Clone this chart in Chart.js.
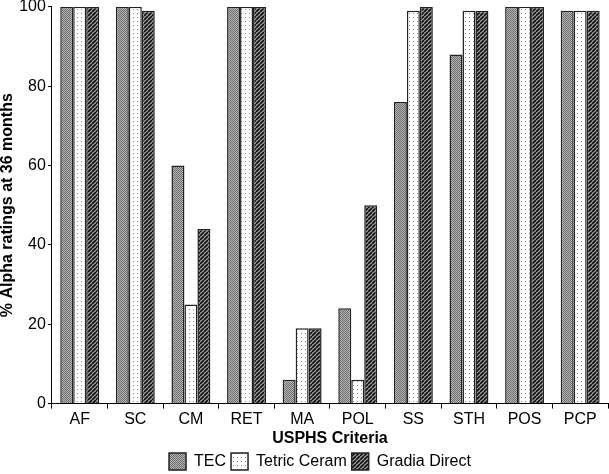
<!DOCTYPE html>
<html><head><meta charset="utf-8">
<script src="https://cdn.jsdelivr.net/npm/chart.js@4"></script>
<style>html,body{margin:0;padding:0;background:#fff}#wrap{width:609px;height:474px}</style>
</head><body><div id="wrap"><canvas id="c" width="609" height="474"></canvas></div>
<script>
const categories = ["AF","SC","CM","RET","MA","POL","SS","STH","POS","PCP"];
const tecValues = [100,100,60,100,6,24,76,88,100,99];
const tetricValues = [100,100,25,100,19,6,99,99,100,99];
const gradiaValues = [100,99,44,100,19,50,100,99,100,99];
const seriesNames = ["TEC","Tetric Ceram","Gradia Direct"];
const yTicks = [0,20,40,60,80,100];

function makePattern(kind){
  const c=document.createElement('canvas');
  const ctx=c.getContext('2d');
  if(kind==='tec'){
    c.width=2;c.height=2;
    ctx.fillStyle='#b4b4b4';ctx.fillRect(0,0,2,2);
    ctx.fillStyle='#6e6e6e';ctx.fillRect(0,0,1,1);ctx.fillRect(1,1,1,1);
  } else if(kind==='tetric'){
    c.width=4;c.height=4;
    ctx.fillStyle='#ffffff';ctx.fillRect(0,0,4,4);
    ctx.fillStyle='#8a8a8a';ctx.fillRect(1,1,1,1);
  } else {
    c.width=4;c.height=4;
    ctx.fillStyle='#a0a0a0';ctx.fillRect(0,0,4,4);
    ctx.strokeStyle='#111';ctx.lineWidth=1.7;
    ctx.beginPath();
    for(let k=-4;k<=8;k+=4){ctx.moveTo(k,4);ctx.lineTo(k+4,0);}
    ctx.stroke();
  }
  return document.getElementById('c').getContext('2d').createPattern(c,'repeat');
}

const legendShift = {
  id:'legendShift',
  afterLayout(chart){ if(chart.legend){chart.legend.left += 17; chart.legend.right += 17;} }
};

const fam = "'Liberation Sans', Arial, sans-serif";
new Chart(document.getElementById('c'),{
  type:'bar',
  data:{
    labels:categories,
    datasets:[
      {label:seriesNames[0],data:tecValues,backgroundColor:makePattern('tec'),borderColor:'#222',borderWidth:1.5},
      {label:seriesNames[1],data:tetricValues,backgroundColor:makePattern('tetric'),borderColor:'#222',borderWidth:1.5},
      {label:seriesNames[2],data:gradiaValues,backgroundColor:makePattern('gradia'),borderColor:'#222',borderWidth:1.5}
    ]
  },
  plugins:[legendShift],
  options:{
    responsive:false,animation:false,
    layout:{padding:{top:-7,right:1,left:-2,bottom:-6}},
    categoryPercentage:0.7,barPercentage:1.0,
    plugins:{
      tooltip:{enabled:false},
      legend:{position:'bottom',labels:{color:'#000',font:{family:fam,size:16},boxWidth:17,boxHeight:17,padding:5}}
    },
    scales:{
      x:{
        grid:{display:true,drawOnChartArea:false,drawTicks:true,tickLength:5,color:'#000',offset:true},
        border:{color:'#000',width:1},
        ticks:{color:'#000',font:{family:fam,size:16},padding:1},
        title:{display:true,text:'USPHS Criteria',color:'#000',font:{family:fam,size:16,weight:'bold'},padding:{top:-1,bottom:0}}
      },
      y:{
        min:0,max:100,
        afterBuildTicks:(s)=>{s.ticks=yTicks.map(v=>({value:v}));},
        grid:{display:true,drawOnChartArea:false,drawTicks:true,tickLength:4,color:'#000'},
        border:{color:'#000',width:1},
        ticks:{color:'#000',font:{family:fam,size:16,lineHeight:0.6},padding:2},
        title:{display:true,text:'% Alpha ratings at 36 months',color:'#000',font:{family:fam,size:16,weight:'bold'},padding:{top:0,bottom:0}}
      }
    }
  }
});
</script></body></html>
